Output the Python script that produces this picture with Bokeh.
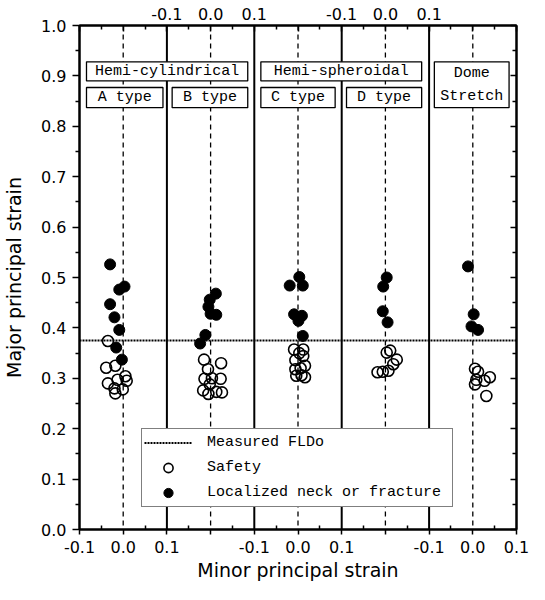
from bokeh.plotting import figure
from bokeh.models import (Range1d, FixedTicker, LinearAxis, Span, BoxAnnotation,
                          Label, Legend, LegendItem)
from bokeh.embed import file_html
from bokeh.resources import INLINE

# ---------------- data ----------------
panel_names = ["A type", "B type", "C type", "D type", "Dome Stretch"]
fld_measured = 0.375

a_safe_minor = [-0.035, -0.039, -0.018, 0.005, -0.013, -0.035, 0.008, -0.020, -0.001, -0.018]
a_safe_major = [0.374, 0.321, 0.325, 0.304, 0.297, 0.290, 0.295, 0.280, 0.278, 0.270]
a_neck_minor = [-0.030, -0.009, 0.003, -0.030, -0.020, -0.009, -0.016, -0.003]
a_neck_major = [0.526, 0.476, 0.482, 0.447, 0.421, 0.396, 0.361, 0.337]

b_safe_minor = [-0.015, 0.024, -0.006, -0.014, 0.003, 0.023, -0.002, -0.017, -0.005, 0.013, 0.026]
b_safe_major = [0.337, 0.330, 0.318, 0.299, 0.300, 0.299, 0.288, 0.276, 0.269, 0.273, 0.272]
b_neck_minor = [0.012, -0.002, -0.005, 0.000, 0.013, -0.012, -0.024]
b_neck_major = [0.468, 0.456, 0.442, 0.428, 0.426, 0.386, 0.369]

c_safe_minor = [-0.009, 0.012, 0.003, -0.006, 0.012, 0.016, -0.006, 0.006, -0.004, 0.016, 0.008]
c_safe_major = [0.357, 0.357, 0.350, 0.336, 0.344, 0.325, 0.318, 0.320, 0.305, 0.302, 0.306]
c_neck_minor = [0.003, -0.019, 0.011, -0.009, 0.009, 0.001, 0.011]
c_neck_major = [0.501, 0.484, 0.484, 0.427, 0.424, 0.414, 0.384]

d_safe_minor = [0.011, 0.003, 0.026, 0.018, 0.007, -0.018, -0.006]
d_safe_major = [0.355, 0.351, 0.337, 0.328, 0.315, 0.312, 0.313]
d_neck_minor = [0.003, -0.005, -0.006, 0.005]
d_neck_major = [0.500, 0.482, 0.433, 0.411]

e_safe_minor = [0.005, 0.012, 0.039, 0.008, 0.027, 0.005, 0.031]
e_safe_major = [0.319, 0.313, 0.302, 0.297, 0.295, 0.288, 0.265]
e_neck_minor = [-0.011, 0.002, -0.003, 0.012]
e_neck_major = [0.522, 0.427, 0.403, 0.396]

y_ticks = [0.0, 0.1, 0.2, 0.3, 0.4, 0.5, 0.6, 0.7, 0.8, 0.9, 1.0]
y_tick_labels = ["0.0", "0.1", "0.2", "0.3", "0.4", "0.5", "0.6", "0.7", "0.8", "0.9", "1.0"]
bottom_tick_labels = ["-0.1", "0.0", "0.1", "", "-0.1", "0.0", "0.1", "", "-0.1", "0.0", "0.1"]
top_tick_labels = ["", "", "-0.1", "0.0", "0.1", "", "-0.1", "0.0", "0.1", "", ""]

# ---------------- layout of the panels ----------------
panel_span = 0.2          # each panel shows minor strain -0.1 .. 0.1
n_panels = len(panel_names)
x_ticks = [round(k * 0.1, 1) for k in range(2 * n_panels + 1)]
x_minor = [round(0.05 + k * 0.1, 2) for k in range(2 * n_panels)]
y_minor = [round(0.05 + k * 0.1, 2) for k in range(10)]


def to_global(i, vals):
    return [i * panel_span + panel_span / 2 + v for v in vals]


safe_sets = [(a_safe_minor, a_safe_major), (b_safe_minor, b_safe_major),
             (c_safe_minor, c_safe_major), (d_safe_minor, d_safe_major),
             (e_safe_minor, e_safe_major)]
neck_sets = [(a_neck_minor, a_neck_major), (b_neck_minor, b_neck_major),
             (c_neck_minor, c_neck_major), (d_neck_minor, d_neck_major),
             (e_neck_minor, e_neck_major)]

safe_x, safe_y, neck_x, neck_y = [], [], [], []
for i, (mx, my) in enumerate(safe_sets):
    safe_x += to_global(i, mx)
    safe_y += my
for i, (mx, my) in enumerate(neck_sets):
    neck_x += to_global(i, mx)
    neck_y += my

x_lo, x_hi = 0.0, n_panels * panel_span

p = figure(width=529, height=584, x_range=Range1d(x_lo, x_hi), y_range=Range1d(0, 1.0),
           output_backend="svg", toolbar_location=None,
           min_border_left=78, min_border_right=13, min_border_top=25, min_border_bottom=55)
p.grid.visible = False
p.outline_line_color = "black"
p.outline_line_width = 2
p.background_fill_color = "white"
p.border_fill_color = "white"

TICK_FONT = "DejaVu Sans"
BOX_FONT = "Liberation Mono"


def style_axis(ax, tick_in, tick_out, minor_in, minor_out, standoff, size="16px"):
    ax.axis_line_color = "black"
    ax.axis_line_width = 2
    ax.major_tick_line_color = "black"
    ax.major_tick_line_width = 1.5
    ax.minor_tick_line_color = "black"
    ax.minor_tick_line_width = 1.5
    ax.major_tick_in = tick_in
    ax.major_tick_out = tick_out
    ax.minor_tick_in = minor_in
    ax.minor_tick_out = minor_out
    ax.major_label_standoff = standoff
    ax.major_label_text_font = TICK_FONT
    ax.major_label_text_font_size = size
    ax.major_label_text_color = "black"
    ax.axis_label_text_font = TICK_FONT
    ax.axis_label_text_font_size = "19px"
    ax.axis_label_text_font_style = "normal"
    ax.axis_label_text_color = "black"


# bottom axis
xb = p.xaxis[0]
xb.ticker = FixedTicker(ticks=x_ticks, minor_ticks=x_minor)
xb.major_label_overrides = {t: lab for t, lab in zip(x_ticks, bottom_tick_labels)}
xb.axis_label = "Minor principal strain"
style_axis(xb, 0, 5, 4, 0, 6)
xb.axis_label_standoff = 3

# left axis
yl = p.yaxis[0]
yl.ticker = FixedTicker(ticks=y_ticks, minor_ticks=y_minor)
yl.major_label_overrides = {t: lab for t, lab in zip(y_ticks, y_tick_labels)}
yl.axis_label = "Major principal strain"
style_axis(yl, 0, 7, 0, 4, 6)
yl.axis_label_standoff = 13

# top axis
xt = LinearAxis(ticker=FixedTicker(ticks=x_ticks, minor_ticks=x_minor))
xt.major_label_overrides = {t: lab for t, lab in zip(x_ticks, top_tick_labels)}
style_axis(xt, 6, 0, 4, 0, 6)
p.add_layout(xt, "above")

# right axis
yr = LinearAxis(ticker=FixedTicker(ticks=y_ticks, minor_ticks=y_minor))
yr.major_label_overrides = {t: "" for t in y_ticks}
style_axis(yr, 6, 0, 4, 0, 0)
p.add_layout(yr, "right")

# panel dividers and zero lines
for i in range(n_panels):
    centre = i * panel_span + panel_span / 2
    p.add_layout(Span(location=centre, dimension="height", line_color="black",
                      line_width=1.3, line_dash="5 4", level="underlay"))
    if i > 0:
        p.add_layout(Span(location=i * panel_span, dimension="height", line_color="black",
                          line_width=2, level="underlay"))

# measured FLD0 line
fld_r = p.line(x=[x_lo, x_hi], y=[fld_measured, fld_measured], line_color="black",
               line_width=2, line_dash="2 1")

safe_r = p.scatter(x=safe_x, y=safe_y, marker="circle", size=11, fill_color=None,
                   line_color="black", line_width=1.6)
neck_r = p.scatter(x=neck_x, y=neck_y, marker="circle", size=11, fill_color="black",
                   line_color="black", line_width=1)

# header boxes (group and type labels)
header_boxes = [
    ("Hemi-cylindrical", 0.016, 0.385, 0.890, 0.928),
    ("A type", 0.016, 0.191, 0.837, 0.877),
    ("B type", 0.212, 0.385, 0.837, 0.877),
    ("Hemi-spheroidal", 0.415, 0.783, 0.890, 0.928),
    ("C type", 0.415, 0.585, 0.837, 0.877),
    ("D type", 0.611, 0.783, 0.837, 0.877),
    ("Dome\nStretch", 0.812, 0.983, 0.837, 0.928),
]
for text, l, r, b, t in header_boxes:
    p.add_layout(BoxAnnotation(left=l, right=r, bottom=b, top=t, fill_color="white",
                               fill_alpha=1.0, line_color="black", line_width=1.3,
                               line_alpha=1.0))
for text, l, r, b, t in header_boxes:
    lines = text.split("\n")
    n = len(lines)
    for k, line in enumerate(lines):
        yc = t - (t - b) * (k + 0.5) / n
        p.add_layout(Label(x=(l + r) / 2, y=yc, text=line, text_align="center",
                           text_baseline="middle", text_font=BOX_FONT,
                           text_font_size="15px", text_color="black"))

legend = Legend(items=[LegendItem(label="Measured FLDo", renderers=[fld_r]),
                       LegendItem(label="Safety", renderers=[safe_r]),
                       LegendItem(label="Localized neck or fracture", renderers=[neck_r])],
                location=(62, 22), padding=2, spacing=2, glyph_height=23, label_height=23,
                glyph_width=48, label_standoff=15, label_width=243, margin=0,
                border_line_color="black", border_line_width=1.3,
                background_fill_color="white", background_fill_alpha=1.0,
                label_text_font=BOX_FONT, label_text_font_size="15px",
                label_text_color="black")
p.add_layout(legend)

open("out.html", "w").write(file_html(p, INLINE))
